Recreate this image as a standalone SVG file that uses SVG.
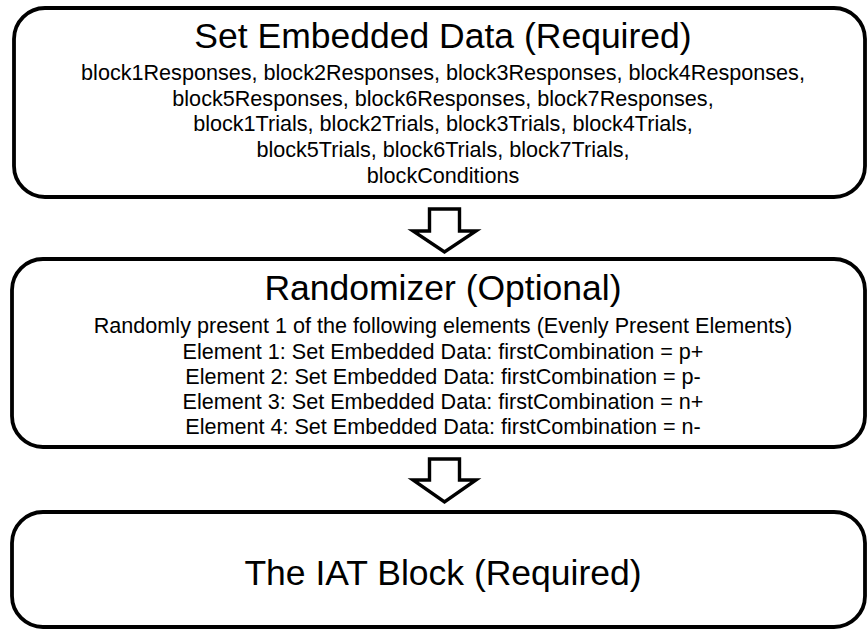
<svg xmlns="http://www.w3.org/2000/svg" width="868" height="629" viewBox="0 0 868 629">
<style>
.box{fill:#fff;stroke:#000;stroke-width:3.8}
.arr{fill:#fff;stroke:#000;stroke-width:3.4;stroke-linejoin:miter}
text{font-family:"Liberation Sans",Arial,sans-serif;fill:#000;text-anchor:middle}
.t{font-size:35.5px}
.b{font-size:21.6px}
</style>
<rect width="868" height="629" fill="#fff"/>
<g id="node-set-embedded">
<rect class="box" x="14" y="8" width="851" height="189" rx="31"/>
<text class="t" x="443" y="48">Set Embedded Data (Required)</text>
<text class="b" x="443" y="80">block1Responses, block2Responses, block3Responses, block4Responses,</text>
<text class="b" x="443" y="106">block5Responses, block6Responses, block7Responses,</text>
<text class="b" x="443" y="131">block1Trials, block2Trials, block3Trials, block4Trials,</text>
<text class="b" x="443" y="157">block5Trials, block6Trials, block7Trials,</text>
<text class="b" x="443" y="183">blockConditions</text>
</g>
<g id="node-randomizer">
<rect class="box" x="12" y="259" width="853" height="188" rx="31"/>
<text class="t" x="443" y="300">Randomizer (Optional)</text>
<text class="b" x="443" y="333">Randomly present 1 of the following elements (Evenly Present Elements)</text>
<text class="b" x="443" y="359">Element 1: Set Embedded Data: firstCombination = p+</text>
<text class="b" x="443" y="384">Element 2: Set Embedded Data: firstCombination = p-</text>
<text class="b" x="443" y="409">Element 3: Set Embedded Data: firstCombination = n+</text>
<text class="b" x="443" y="434">Element 4: Set Embedded Data: firstCombination = n-</text>
</g>
<g id="node-iat">
<rect class="box" x="12" y="512" width="853" height="115" rx="31"/>
<text class="t" x="443" y="585">The IAT Block (Required)</text>
</g>
<g id="connectors">
<polygon class="arr" points="429.5,209 459.5,209 459.5,231 476,231 444.5,252 413,231 429.5,231"/>
<polygon class="arr" points="429.5,459 459.5,459 459.5,480 476,480 444.5,502 413,480 429.5,480"/>
</g>
</svg>
